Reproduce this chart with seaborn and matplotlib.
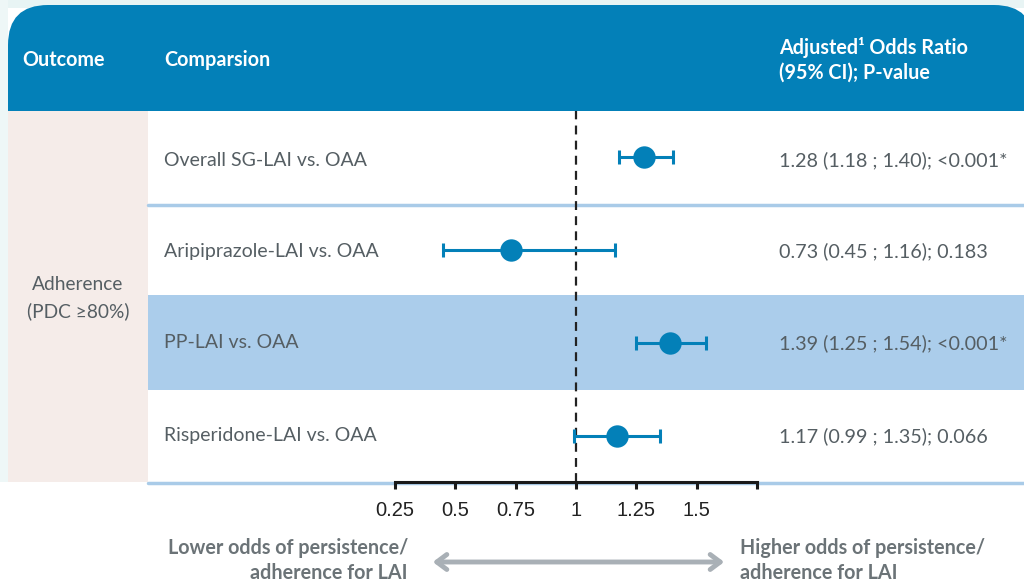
import pandas as pd
import seaborn as sns
import matplotlib.pyplot as plt
from matplotlib.patches import FancyBboxPatch, Rectangle

# data
comparisons = ["Overall SG-LAI vs. OAA", "Aripiprazole-LAI vs. OAA",
               "PP-LAI vs. OAA", "Risperidone-LAI vs. OAA"]
odds_ratio = [1.28, 0.73, 1.39, 1.17]
ci_low = [1.18, 0.45, 1.25, 0.99]
ci_high = [1.40, 1.16, 1.54, 1.35]
p_values = ["<0.001*", "0.183", "<0.001*", "0.066"]
x_ticks = [0.25, 0.5, 0.75, 1, 1.25, 1.5, 1.75]
x_tick_labels = ["0.25", "0.5", "0.75", "1", "1.25", "1.5", ""]

df = pd.DataFrame({"comparison": comparisons, "odds": odds_ratio,
                   "lo": ci_low, "hi": ci_high, "p": p_values})
df["row"] = range(len(df))

sns.set_theme(style="white")
plt.rcParams["font.family"] = ["Lato", "DejaVu Sans"]

BLUE = "#0380b8"
TXT = "#555e63"
SEP = "#a9cbe8"

fig = plt.figure(figsize=(10.24, 5.85), dpi=100)
fig.patch.set_facecolor("white")

# background axes in pixel coords
bg = fig.add_axes([0, 0, 1, 1])
bg.set_xlim(0, 1024)
bg.set_ylim(585, 0)
bg.axis("off")

bg.add_patch(Rectangle((0, 0), 1024, 8, color="#e8f4f4", lw=0))
bg.add_patch(Rectangle((0, 0), 8, 482, color="#eef7f7", lw=0))

# header with rounded top corners
bg.add_patch(FancyBboxPatch((8, 5), 1026, 150, boxstyle="round,pad=0,rounding_size=40",
                            color=BLUE, lw=0))
bg.add_patch(Rectangle((8, 60), 1020, 51, color=BLUE, lw=0))
bg.add_patch(Rectangle((8, 111), 1020, 100, color="white", lw=0))

# outcome column and rows
bg.add_patch(Rectangle((8, 111), 140, 371, color="#f5ece9", lw=0))
bg.add_patch(Rectangle((148, 111), 876, 371, color="white", lw=0))
bg.add_patch(Rectangle((148, 295), 876, 95, color="#abcdeb", lw=0))
bg.plot([148, 1024], [205, 205], color=SEP, lw=2.5)
bg.plot([148, 1024], [483, 483], color=SEP, lw=2.5)

hdr = dict(color="white", fontsize=14.2, fontweight="bold", va="center")
bg.text(22, 60, "Outcome", **hdr)
bg.text(164, 60, "Comparsion", **hdr)
bg.text(779, 47, "Adjusted¹ Odds Ratio", **hdr)
bg.text(779, 73, "(95% CI); P-value", **hdr)

bg.text(78, 285, "Adherence", color=TXT, fontsize=13.8, ha="center", va="center")
bg.text(78, 311, "(PDC ≥80%)", color=TXT, fontsize=13.8, ha="center", va="center")

row_y = [160, 251, 343, 436]
for y, r in zip(row_y, df.itertuples()):
    bg.text(164, y, r.comparison, color=TXT, fontsize=14, va="center")
    bg.text(779, y, f"{r.odds:.2f} ({r.lo:.2f} ; {r.hi:.2f}); {r.p}",
            color=TXT, fontsize=14.2, va="center")

# bottom direction labels and arrow
lab = dict(color="#6b7377", fontsize=14.2, fontweight="bold", va="center")
bg.text(408, 548, "Lower odds of persistence/", ha="right", **lab)
bg.text(408, 573, "adherence for LAI", ha="right", **lab)
bg.text(740, 548, "Higher odds of persistence/", ha="left", **lab)
bg.text(740, 573, "adherence for LAI", ha="left", **lab)
bg.annotate("", xy=(430, 562), xytext=(727, 562),
            arrowprops=dict(arrowstyle="<->,head_length=0.6,head_width=0.45",
                            color="#a9b0b6", lw=3.5))

# forest plot axes
ax = fig.add_axes([395 / 1024, 1 - 482 / 585, 362 / 1024, 371 / 585])
ax.patch.set_alpha(0)
ax.errorbar(df["odds"], df["row"], xerr=[df["odds"] - df["lo"], df["hi"] - df["odds"]],
            fmt="none", ecolor=BLUE, elinewidth=2.2, capsize=5, capthick=2.2, zorder=3)
sns.scatterplot(data=df, x="odds", y="row", s=260, color=BLUE, edgecolor=BLUE,
                linewidth=0, ax=ax, zorder=4, legend=False)
ax.axvline(1, color="#222222", ls=(0, (4, 2.8)), lw=1.6, zorder=2)

ax.set_xlim(0.25, 1.75)
ax.set_ylim(3.5, -0.5)
ax.set_xticks(x_ticks)
ax.set_xticklabels(x_tick_labels, family=["Liberation Sans", "DejaVu Sans"],
                   fontsize=14.5, color="#222222")
ax.set_yticks([])
ax.set_xlabel("")
ax.set_ylabel("")
for s in ["top", "left", "right"]:
    ax.spines[s].set_visible(False)
ax.spines["bottom"].set_color("#1a1a1a")
ax.spines["bottom"].set_linewidth(2.2)
ax.tick_params(axis="x", direction="out", length=5, width=2.2, color="#1a1a1a",
               bottom=True, pad=9)

plt.savefig("out.png", dpi=100)
